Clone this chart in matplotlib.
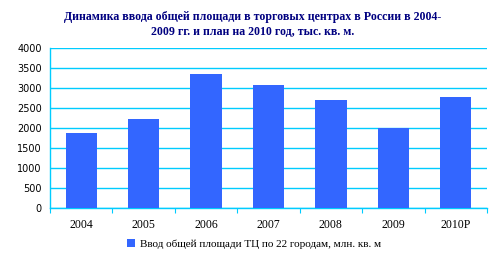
import matplotlib.pyplot as plt
from matplotlib.ticker import FixedLocator

years = ['2004', '2005', '2006', '2007', '2008', '2009', '2010P']
values = [1875, 2230, 3360, 3080, 2705, 2000, 2780]
yticks = [0, 500, 1000, 1500, 2000, 2500, 3000, 3500, 4000]

title = ('Динамика ввода общей площади в торговых центрах в России в 2004-\n'
         '2009 гг. и план на 2010 год, тыс. кв. м.')
series_name = 'Ввод общей площади ТЦ по 22 городам, млн. кв. м'

grid_color = '#00CCFF'
bar_color = '#3366FF'

fig = plt.figure(figsize=(4.98, 2.59), dpi=100)
ax = fig.add_axes([0.1004, 0.1957, 0.8775, 0.6178])

x = range(len(years))
ax.bar(x, values, width=0.5, color=bar_color, zorder=3, label=series_name)

ax.set_xlim(-0.5, len(years) - 0.5)
ax.set_ylim(0, 4000)
ax.set_yticks(yticks)
ax.set_yticklabels([str(v) for v in yticks], fontsize=7, family='DejaVu Sans')
ax.tick_params(axis='y', length=0, pad=6)

ax.set_xticks(list(x))
ax.set_xticklabels(years, fontsize=8.5, family='Liberation Serif')
ax.xaxis.set_minor_locator(FixedLocator([i - 0.5 for i in range(len(years) + 1)]))
ax.tick_params(axis='x', which='major', length=0, pad=7.5)
ax.tick_params(axis='x', which='minor', length=3.5, width=0.8, color=grid_color)

ax.grid(axis='y', color=grid_color, linewidth=1, zorder=0)
for s in ['top', 'right']:
    ax.spines[s].set_visible(False)
for s in ['left', 'bottom']:
    ax.spines[s].set_color(grid_color)
    ax.spines[s].set_linewidth(1)

fig.text(0.508, 0.905, title, ha='center', va='center', fontsize=8.6,
         fontweight='bold', family='Liberation Serif', color='#000080',
         linespacing=1.35)

fig.legend(loc='center', bbox_to_anchor=(0.51, 0.058), frameon=False,
           prop={'family': 'Liberation Serif', 'size': 8},
           handlelength=0.7, handleheight=0.7, handletextpad=0.4)

fig.savefig('out.png', dpi=100)
